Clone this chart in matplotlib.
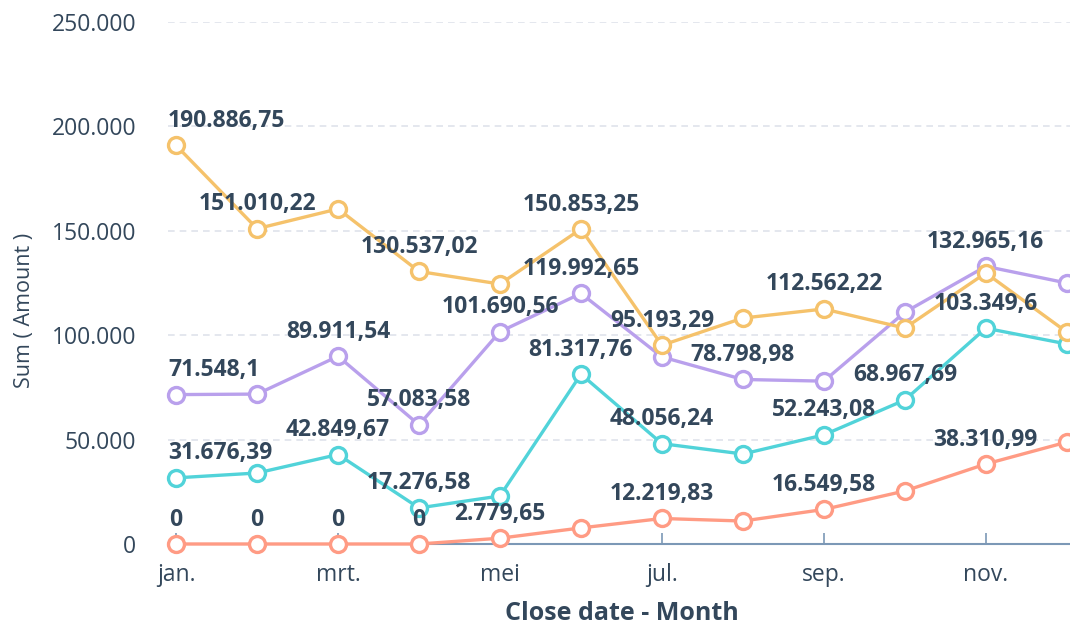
import matplotlib
matplotlib.use('agg')
import matplotlib.pyplot as plt

months = ['jan.', 'feb.', 'mrt.', 'apr.', 'mei', 'jun.', 'jul.', 'aug.', 'sep.', 'okt.', 'nov.', 'dec.']

orange = [190886.75, 151010.22, 160500, 130537.02, 124500, 150853.25,
          95193.29, 108200, 112562.22, 103400, 129800, 101500]
purple = [71548.1, 71800, 89911.54, 57083.58, 101690.56, 119992.65,
          89600, 78798.98, 78000, 111000, 132965.16, 125000]
teal = [31676.39, 34000, 42849.67, 17276.58, 23000, 81317.76,
        48056.24, 43100, 52243.08, 68967.69, 103349.6, 95800]
coral = [0, 0, 0, 0, 2779.65, 7700,
         12219.83, 11000, 16549.58, 25400, 38310.99, 48800]

# which points show a value label (the rest were hidden for overlap)
orange_lab = [0, 1, 3, 5, 6, 8]
purple_lab = [0, 2, 3, 4, 5, 7, 10]
teal_lab = [0, 2, 3, 5, 6, 8, 9, 10]
coral_lab = [0, 1, 2, 3, 4, 6, 8, 10]

yticks = [0, 50000, 100000, 150000, 200000, 250000]

TXT = '#33475b'
AXIS = '#7c98b6'
GRID = '#dfe3eb'
plt.rcParams['font.family'] = ['Open Sans', 'DejaVu Sans']


def fmt(v):
    s = f'{v:,.2f}'.rstrip('0').rstrip('.')
    return s.replace(',', '_').replace('.', ',').replace('_', '.')


W, H = 1070, 626
fig = plt.figure(figsize=(W / 100, H / 100), dpi=100)
ax = fig.add_axes([168 / W, 82 / H, 902 / W, 522 / H])
ax.set_xlim(-0.1, 11.04)
ax.set_ylim(0, 250000)

for y in yticks[1:]:
    ax.axhline(y, color=GRID, lw=1.2, ls=(0, (4, 3)), zorder=0)
ax.plot([0, 11.04], [0, 0], color=AXIS, lw=1.5, zorder=1, clip_on=False)

x = list(range(len(months)))
series = [(coral, '#ff9b84', coral_lab), (teal, '#51d3d9', teal_lab),
          (purple, '#b9a0ec', purple_lab), (orange, '#f5c26b', orange_lab)]
for vals, col, labs in series:
    ax.plot(x, vals, color=col, lw=2.4, marker='o', ms=11.5, mew=2.4,
            mfc='white', mec=col, clip_on=False, zorder=3)

for vals, col, labs in series:
    for i in labs:
        ha = 'center'
        xi = i
        if i == 0 and vals[i] > 0:
            ha = 'left'
            xi = -0.1
        ax.annotate(fmt(vals[i]), (xi, vals[i]), xytext=(0, 9),
                    textcoords='offset points', ha=ha, va='bottom',
                    fontsize=16.5, fontweight='bold', color=TXT, zorder=5)

for s in ax.spines.values():
    s.set_visible(False)
ax.set_yticks(yticks)
ax.set_yticklabels(['0', '50.000', '100.000', '150.000', '200.000', '250.000'])
ax.set_xticks(x[::2])
ax.set_xticklabels(months[::2])
ax.tick_params(axis='y', length=0, pad=23, labelsize=16.5, labelcolor=TXT)
ax.tick_params(axis='x', direction='in', length=8, width=1.2, color=AXIS,
               pad=14, labelsize=16.5, labelcolor=TXT)

fig.text(25 / W, 1 - 310 / H, 'Sum ( Amount )', rotation=90, ha='center',
         va='center', fontsize=15.5, color=TXT)
fig.text(622 / W, 1 - 614 / H, 'Close date - Month', ha='center',
         va='center', fontsize=18, fontweight='bold', color=TXT)

fig.savefig('out.png', dpi=100)
